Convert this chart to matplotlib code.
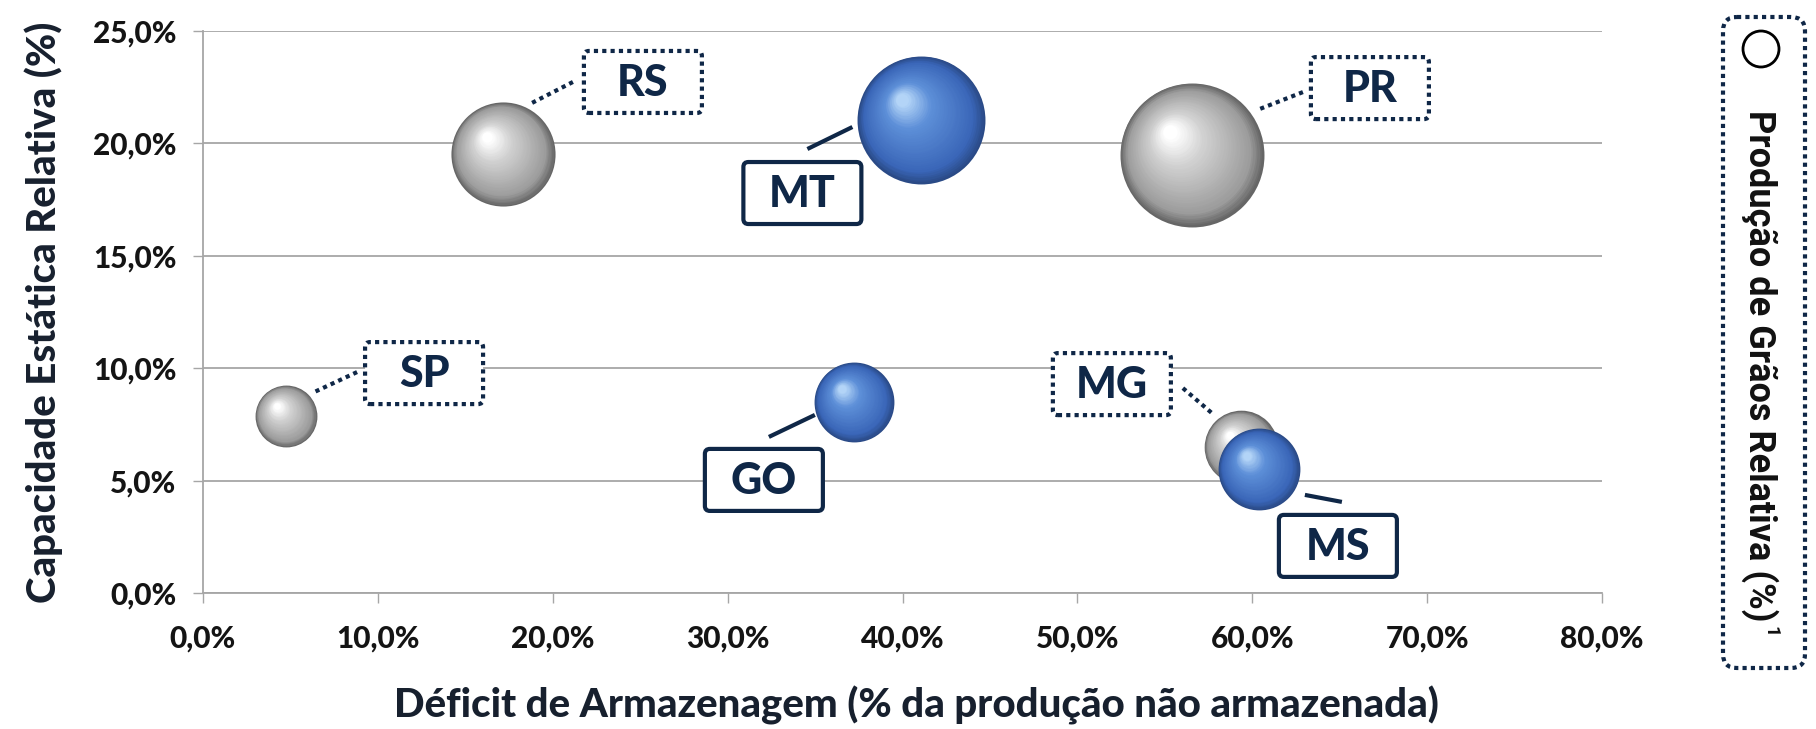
import numpy as np
import matplotlib
matplotlib.use('Agg')
import matplotlib.pyplot as plt
from matplotlib import transforms
from matplotlib.patches import FancyBboxPatch, Ellipse
from matplotlib.colors import LinearSegmentedColormap
from matplotlib.ticker import FuncFormatter

# dados
estados = ['SP', 'RS', 'MT', 'GO', 'PR', 'MG', 'MS']
deficit = [0.0475, 0.1715, 0.4108, 0.3722, 0.5655, 0.5935, 0.6038]
capacidade = [0.0787, 0.1953, 0.2104, 0.0850, 0.1948, 0.0649, 0.0552]
producao = [3.6, 10.2, 15.4, 6.0, 19.5, 5.1, 6.3]
destaque = ['MT', 'GO', 'MS']   # bolhas azuis

x_ticks = [0.0, 0.1, 0.2, 0.3, 0.4, 0.5, 0.6, 0.7, 0.8]
y_ticks = [0.0, 0.05, 0.10, 0.15, 0.20, 0.25]

# posicao das caixas de rotulo (pixels, relativo ao centro da bolha)
caixa_off = {'SP': (138, 43), 'RS': (140, 72), 'MT': (-119, -73), 'GO': (-90, -78),
             'PR': (178, 67), 'MG': (-129, 63), 'MS': (79, -77)}
linha_off = {'SP': ((71, 44), (26, 23)), 'RS': ((70, 72), (29, 51)),
             'MT': ((-114, -29), (-69, -7)), 'GO': ((-85, -35), (-39, -13)),
             'PR': ((111, 63), (65, 45)), 'MG': ((-58, 59), (-29, 34)),
             'MS': ((46, -26), (83, -33))}

NAVY = '#0f2747'
FONT = 'Lato'
PESO = 'black'

W, H = 1816, 729
fig = plt.figure(figsize=(W / 100, H / 100), dpi=100)
ax = fig.add_axes([203 / W, (H - 593) / H, 1399 / W, 562 / H])

ax.set_xlim(0, 0.8)
ax.set_ylim(0, 0.25)
ax.set_xticks(x_ticks)
ax.set_yticks(y_ticks)
fmt = FuncFormatter(lambda v, p: f'{v * 100:.1f}%'.replace('.', ','))
ax.xaxis.set_major_formatter(fmt)
ax.yaxis.set_major_formatter(fmt)
for sp in ['top', 'right']:
    ax.spines[sp].set_visible(False)
for sp in ['left', 'bottom']:
    ax.spines[sp].set_color('#a6a6a6')
    ax.spines[sp].set_linewidth(1.3)
ax.yaxis.grid(True, color='#a6a6a6', lw=1.3)
ax.set_axisbelow(True)
ax.tick_params(axis='both', direction='out', length=7, width=1.0, color='#a6a6a6')
ax.tick_params(axis='y', pad=12)
ax.tick_params(axis='x', pad=16)
for lab in ax.get_xticklabels() + ax.get_yticklabels():
    lab.set_fontfamily(FONT)
    lab.set_fontweight(PESO)
    lab.set_fontsize(21.5)
    lab.set_color('#141414')

ax.set_xlabel('Déficit de Armazenagem (% da produção não armazenada)',
              fontfamily=FONT, fontweight=PESO, fontsize=29, color='#17202e')
ax.xaxis.set_label_coords(0.51, -0.166)
ax.set_ylabel('Capacidade Estática Relativa (%)',
              fontfamily=FONT, fontweight=PESO, fontsize=29, color='#17202e', labelpad=22)

cm_azul = LinearSegmentedColormap.from_list('azul', [(0, '#2a4a86'), (0.15, '#3a66b8'),
                                                      (0.7, '#5d8fd8'), (1, '#b3d4f7')])
cm_cinza = LinearSegmentedColormap.from_list('cinza', [(0, '#666666'), (0.15, '#9c9c9c'),
                                                        (0.7, '#d2d2d2'), (1, '#ffffff')])

ordem = [0, 1, 4, 5, 2, 3, 6]
z = 3
for i in ordem:
    st = estados[i]
    x, y = deficit[i], capacidade[i]
    r = 16.3 * np.sqrt(producao[i])
    cmap = cm_azul if st in destaque else cm_cinza
    n = 40
    for t in np.linspace(0, 1, n):
        rr = r * (1 - 0.9 * t)
        dx, dy = -0.30 * r * t, 0.32 * r * t
        tr = transforms.offset_copy(ax.transData, fig=fig, x=dx, y=dy, units='dots')
        ax.scatter([x], [y], s=(1.44 * rr) ** 2, color=cmap(t), linewidths=0,
                   transform=tr, zorder=z)
        z += 0.001
    z += 1

    azul = st in destaque
    ls = '-' if azul else (0, (1, 1))
    base = transforms.ScaledTranslation(x, y, ax.transData)
    (x0, y0), (x1, y1) = linha_off[st]
    ax.plot([x0, x1], [y0, y1], color=NAVY, lw=3.0, ls=ls, transform=base,
            solid_capstyle='butt', dash_capstyle='butt', zorder=50)
    cx, cy = caixa_off[st]
    bw, bh = 118, 62
    box = FancyBboxPatch((cx - bw / 2, cy - bh / 2), bw, bh,
                         boxstyle='round,pad=0,rounding_size=5',
                         fc='white', ec=NAVY, lw=3.0, ls=ls, transform=base, zorder=51)
    ax.add_patch(box)
    ax.text(cx, cy - 1, st, transform=base, ha='center', va='center',
            fontfamily=FONT, fontweight=PESO, fontsize=31, color=NAVY, zorder=52)

# legenda de tamanho
ov = fig.add_axes([0, 0, 1, 1], zorder=10)
ov.set_xlim(0, W)
ov.set_ylim(H, 0)
ov.axis('off')
ov.patch.set_alpha(0)
ov.add_patch(FancyBboxPatch((1723, 17), 82, 651, boxstyle='round,pad=0,rounding_size=14',
                            fc='none', ec=NAVY, lw=3.0, ls=(0, (1, 1))))
ov.add_patch(Ellipse((1761, 49), 36, 36, fc='white', ec='black', lw=2.0))
ov.text(1760, 110, 'Produção de Grãos Relativa (%)', rotation=-90, ha='center', va='top',
        fontfamily='Roboto', fontweight='bold', fontsize=26, color='#111111')
ov.text(1770, 626, '1', rotation=-90, ha='center', va='top',
        fontfamily='Roboto', fontweight='bold', fontsize=14, color='#111111')

fig.savefig('out.png', dpi=100, facecolor='white')
